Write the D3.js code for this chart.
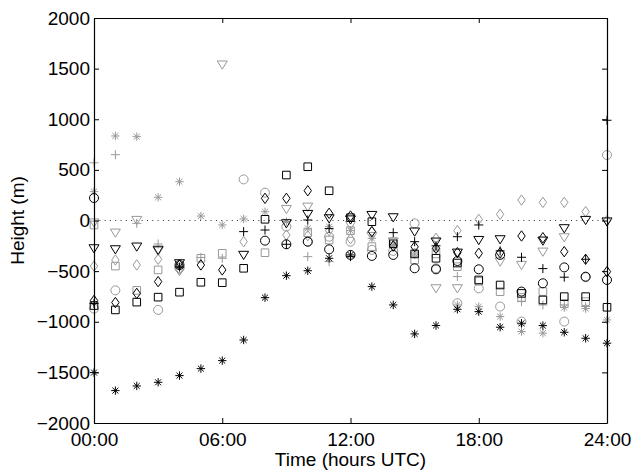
<!DOCTYPE html>
<html>
<head>
<meta charset="utf-8">
<script src="https://cdn.jsdelivr.net/npm/d3@7"></script>
<style>
  body { margin: 0; background: #fff; }
  text { font-family: "Liberation Sans", Arial, sans-serif; }
</style>
</head>
<body>
<div id="chart"></div>
<script>
const margin = { top: 18, left: 94, right: 27, bottom: 49 }
const width = 634 - margin.left - margin.right
const height = 472 - margin.top - margin.bottom

// hours 0..24, one value per hour (null = no point)
const hours = d3.range(0, 25)
const xTicks = [0, 6, 12, 18, 24]
const xTickLabels = ['00:00', '06:00', '12:00', '18:00', '24:00']
const yTicks = [-2000, -1500, -1000, -500, 0, 500, 1000, 1500, 2000]

const blackAsterisk = [-1502, -1680, -1634, -1598, -1532, -1463, -1384, -1180, -762, -545, -496, -373, -340, -653, -834, -1120, -1037, -877, -900, -1054, -1015, -1038, -1104, -1163, -1212]
const blackSquare = [-840, -883, -806, -757, -708, -610, -614, -472, 12, 449, 531, 294, 28, -12, -230, -330, -373, -420, -587, -637, -720, -785, -752, -752, -857]
const blackDiamond = [-790, -810, -720, -604, -440, -439, -488, null, 219, 219, 294, 71, 44, -110, -250, -260, -275, -318, -324, -318, -153, -170, -308, -383, -505]
const blackTriangle = [-275, -285, -258, -290, -423, null, null, -340, null, -28, 64, 21, 10, 54, 31, -110, -209, -318, -193, -186, null, -199, -77, 5, -10]
const blackPlus = [-820, null, null, null, -460, null, null, -110, -94, -235, 5, -80, -357, null, -120, -209, -250, -160, -44, -300, -363, -475, -560, -383, 990]
const blackCircle = [222, null, null, null, -440, null, null, null, -199, -235, -209, -285, -340, -350, -340, -472, -482, -400, -482, -340, -702, -620, -463, -555, -587]
const grayAsterisk = [285, 835, 828, 229, 383, 44, -44, 15, 87, -10, -77, -61, -100, -176, -242, -330, -280, -834, -850, -949, -1097, -1113, -860, -870, -982]
const graySquare = [-44, -450, -690, -488, null, -373, -324, null, -318, null, -120, -193, -100, -258, -209, -390, -330, -456, -600, -703, -760, -702, -820, -801, null]
const grayDiamond = [-450, -390, -439, -383, -480, null, null, -209, null, -143, -150, -100, -180, -110, -258, -324, -176, -100, 11, 61, 202, 179, 179, 87, 0]
const grayTriangle = [-20, -120, 5, -300, -500, null, 1540, null, null, 113, 136, null, -44, -153, -209, null, -670, -670, null, -406, -439, -308, -166, null, null]
const grayPlus = [570, 650, -28, -232, null, -365, -373, null, null, null, -357, -406, null, null, null, null, null, -554, null, null, -801, -834, -834, -850, null]
const grayCircle = [-870, -690, null, -883, -470, null, null, 406, 275, -61, -209, -160, -209, -290, -300, -28, -472, -817, -670, -850, -998, null, -998, -560, 647]

const series = [
  { values: grayAsterisk, marker: 'asterisk', color: '#999' },
  { values: graySquare, marker: 'square', color: '#999' },
  { values: grayDiamond, marker: 'diamond', color: '#999' },
  { values: grayTriangle, marker: 'triangle', color: '#999' },
  { values: grayPlus, marker: 'plus', color: '#999' },
  { values: grayCircle, marker: 'circle', color: '#999' },
  { values: blackSquare, marker: 'square', color: '#000' },
  { values: blackDiamond, marker: 'diamond', color: '#000' },
  { values: blackTriangle, marker: 'triangle', color: '#000' },
  { values: blackPlus, marker: 'plus', color: '#000' },
  { values: blackCircle, marker: 'circle', color: '#000' },
  { values: blackAsterisk, marker: 'asterisk', color: '#000' }
]

const svg = d3
  .select('#chart')
  .append('svg')
  .attr('width', width + margin.left + margin.right)
  .attr('height', height + margin.top + margin.bottom)
  .append('g')
  .attr('transform', 'translate(' + margin.left + ',' + margin.top + ')')

const xPositionScale = d3.scaleLinear().domain([0, 24]).range([0, width])
const yPositionScale = d3.scaleLinear().domain([-2000, 2000]).range([height, 0])

// matlab-ish marker shapes
function markerPath(type) {
  const r = 4.5
  if (type === 'circle') {
    return 'M' + r + ',0A' + r + ',' + r + ' 0 1,1 ' + -r + ',0A' + r + ',' + r + ' 0 1,1 ' + r + ',0Z'
  }
  if (type === 'square') {
    const s = 3.8
    return 'M' + -s + ',' + -s + 'H' + s + 'V' + s + 'H' + -s + 'Z'
  }
  if (type === 'diamond') {
    return 'M0,-5.2L3.7,0L0,5.2L-3.7,0Z'
  }
  if (type === 'triangle') {
    return 'M-5,-3.6L5,-3.6L0,4.6Z'
  }
  if (type === 'plus') {
    return 'M-4.5,0H4.5M0,-4.5V4.5'
  }
  // asterisk
  const a = 4.2
  const d = a * 0.7071
  return 'M-' + a + ',0H' + a + 'M0,-' + a + 'V' + a +
    'M-' + d + ',-' + d + 'L' + d + ',' + d + 'M-' + d + ',' + d + 'L' + d + ',-' + d
}

// dotted zero line
svg
  .append('line')
  .attr('x1', 0)
  .attr('x2', width)
  .attr('y1', yPositionScale(0))
  .attr('y2', yPositionScale(0))
  .attr('stroke', '#333')
  .attr('stroke-width', 1)
  .attr('stroke-dasharray', '1,4.3')

series.forEach(function(s) {
  const points = hours
    .map((h, i) => ({ hour: h, value: s.values[i] }))
    .filter(d => d.value !== null)

  svg
    .append('g')
    .selectAll('path')
    .data(points)
    .enter()
    .append('path')
    .attr('transform', d => 'translate(' + xPositionScale(d.hour) + ',' + yPositionScale(d.value) + ')')
    .attr('d', markerPath(s.marker))
    .attr('fill', 'none')
    .attr('stroke', s.color)
    .attr('stroke-width', 1)
})

// axes, ticks pointing inward on all four sides
const xAxis = d3.axisBottom(xPositionScale)
  .tickValues(xTicks)
  .tickFormat((d, i) => xTickLabels[i])
  .tickSizeInner(-5)
  .tickSizeOuter(0)
  .tickPadding(9.5)
const yAxis = d3.axisLeft(yPositionScale)
  .tickValues(yTicks)
  .tickFormat(d => d < 0 ? '\u2212' + Math.abs(d) : d)
  .tickSizeInner(-5)
  .tickSizeOuter(0)
  .tickPadding(4)

svg.append('g').attr('class', 'axis').attr('transform', 'translate(0,' + height + ')').call(xAxis)
svg.append('g').attr('class', 'axis').call(yAxis)
svg.append('g').attr('class', 'axis').call(
  d3.axisTop(xPositionScale).tickValues(xTicks).tickFormat('').tickSizeInner(-5).tickSizeOuter(0))
svg.append('g').attr('class', 'axis').attr('transform', 'translate(' + width + ',0)').call(
  d3.axisRight(yPositionScale).tickValues(yTicks).tickFormat('').tickSizeInner(-5).tickSizeOuter(0))

svg.selectAll('.axis path').attr('stroke', '#000').attr('stroke-width', 1.2)
svg.selectAll('.axis line').attr('stroke', '#000').attr('stroke-width', 1)
svg.selectAll('.axis text')
  .attr('font-size', 19)
  .attr('font-family', '"Liberation Sans", Arial, sans-serif')
  .attr('fill', '#000')

svg
  .append('text')
  .text('Time (hours UTC)')
  .attr('x', width / 2)
  .attr('y', height + 43)
  .attr('font-size', 19)
  .attr('text-anchor', 'middle')

svg
  .append('text')
  .text('Height (m)')
  .attr('transform', 'translate(' + -70 + ',' + height / 2 + ') rotate(-90)')
  .attr('font-size', 19)
  .attr('text-anchor', 'middle')
</script>
</body>
</html>
